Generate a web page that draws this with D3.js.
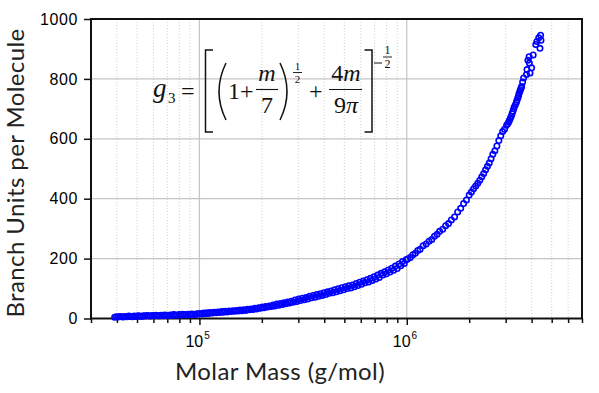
<!DOCTYPE html>
<html lang="en">
<head>
<meta charset="utf-8">
<title>Branch Units per Molecule vs Molar Mass</title>
<script src="https://cdnjs.cloudflare.com/ajax/libs/d3/7.8.5/d3.min.js"></script>
<style>
  body { margin: 0; background: #fff; }
  .tickLabel { font-family: "Liberation Sans", Arial, sans-serif; fill: #000; }
  .axisTitle { font-family: Lato, "Open Sans", sans-serif; fill: #222; }
  .eq { font-family: "Liberation Serif", "Times New Roman", serif; fill: #111; }
</style>
</head>
<body>
<div class="chart"></div>
<script>
// molar mass (g/mol) and branch units per molecule
var molarMass = [
  39000, 39800, 40600, 41400, 42200, 43000, 43900, 44800, 45700, 46600,
  47500, 48500, 49500, 50500, 51500, 52500, 53600, 54700, 55800, 56900,
  58000, 59200, 60400, 61600, 62800, 64100, 65400, 66700, 68000, 69400,
  70800, 72200, 73600, 75100, 76600, 78100, 79700, 81300, 82900, 84600,
  86300, 88000, 89800, 91600, 93400, 95300, 97200, 99100, 101000, 103000,
  105000, 107000, 109000, 111000, 113000, 115500, 118000, 120500, 123000, 125500,
  128000, 130500, 133000, 136000, 139000, 142000, 145000, 148000, 151000, 154000,
  157000, 160000, 163500, 167000, 170500, 174000, 177500, 181000, 185000, 189000,
  193000, 197000, 201000, 205000, 209000, 213000, 217500, 222000, 226500, 231000,
  236000, 241000, 246000, 251000, 256000, 261000, 266500, 272000, 277500, 283000,
  289000, 295000, 301000, 307000, 313500, 320000, 326500, 333000, 340000, 347000,
  354000, 361000, 368500, 376000, 383500, 391000, 399000, 407000, 415000, 423000,
  431500, 440000, 449000, 458000, 467000, 476500, 486000, 496000, 506000, 516000,
  526000, 537000, 548000, 559000, 570000, 581000, 593000, 605000, 617000, 629000,
  642000, 655000, 668000, 681000, 695000, 709000, 723000, 737000, 752000, 767000,
  782000, 798000, 814000, 830000, 847000, 864000, 881000, 899000, 917000, 935000,
  954000, 973000, 992000,
  1010000, 1040000, 1070000, 1100000, 1130000, 1160000, 1200000, 1240000, 1280000, 1320000,
  1360000, 1400000, 1440000, 1490000, 1540000, 1590000, 1640000, 1700000, 1760000, 1820000,
  1880000, 1940000, 2000000,
  2050000, 2100000, 2150000, 2200000, 2250000, 2300000, 2350000, 2400000, 2450000, 2500000,
  2550000, 2600000, 2660000, 2720000, 2780000, 2840000, 2900000, 2960000,
  3030000, 3070000, 3100000, 3130000, 3160000, 3190000, 3220000, 3250000, 3280000, 3300000,
  3340000, 3380000, 3400000, 3430000, 3460000, 3480000, 3510000, 3530000, 3560000, 3580000,
  3620000, 3660000, 3780000, 3800000, 3840000, 3890000, 3900000, 3930000, 4000000, 4070000,
  4190000, 4240000, 4330000, 4390000, 4420000, 4440000
];
var branchUnits = [
  4, 6, 5, 7, 6, 5, 7, 6, 8, 7,
  6, 8, 7, 9, 8, 7, 9, 8, 10, 9,
  8, 10, 9, 11, 10, 9, 11, 10, 12, 11,
  10, 12, 11, 13, 12, 11, 13, 12, 14, 13,
  12, 14, 13, 15, 14, 13, 16, 15, 17, 15,
  18, 16, 19, 17, 20, 18, 21, 19, 22, 20,
  23, 21, 24, 22, 25, 23, 26, 24, 27, 25,
  28, 26, 29, 27, 31, 29, 32, 30, 34, 32,
  36, 34, 38, 36, 40, 38, 42, 40, 45, 42,
  48, 44, 50, 47, 53, 49, 55, 52, 58, 54,
  62, 57, 65, 60, 68, 63, 70, 65, 74, 69,
  77, 71, 80, 74, 83, 77, 86, 80, 89, 84,
  92, 86, 96, 89, 99, 93, 103, 96, 106, 100,
  109, 102, 112, 106, 117, 110, 121, 114, 125, 119,
  129, 122, 134, 127, 139, 132, 145, 137, 151, 145,
  156, 149, 162, 155, 168, 161, 175, 167, 182, 176,
  190, 184, 196,
  199, 204, 213, 218, 227, 231, 243, 249, 258, 264,
  275, 281, 291, 298, 310, 317, 329, 339, 356, 368,
  384, 396, 412,
  422, 433, 442, 452, 462, 473, 484, 497, 508, 519,
  533, 548, 560, 576, 594, 610, 624, 632,
  645, 650, 656, 662, 669, 675, 684, 692, 700, 706,
  714, 722, 729, 736, 744, 751, 758, 764, 770, 775,
  790, 803, 815, 831, 862, 874, 853, 820, 837, 880,
  915, 925, 937, 902, 946, 929
];

var yTicks = [0, 200, 400, 600, 800, 1000];
var yGrid = [200, 400, 600, 800];
var xMajor = [1e5, 1e6];
var xMinor = [3e4, 4e4, 5e4, 6e4, 7e4, 8e4, 9e4,
              2e5, 3e5, 4e5, 5e5, 6e5, 7e5, 8e5, 9e5,
              2e6, 3e6, 4e6, 5e6, 6e6, 7e6];

var svgWidth = 599;
var svgHeight = 393;
var margin = { top: 19, right: 17, bottom: 74.5, left: 91 };
var width = svgWidth - margin.left - margin.right;
var height = svgHeight - margin.top - margin.bottom;

var svg = d3.select(".chart")
  .append("svg")
  .attr("width", svgWidth)
  .attr("height", svgHeight);

var chartGroup = svg.append("g")
  .attr("transform", `translate(${margin.left}, ${margin.top})`);

var xScale = d3.scaleLog().domain([3e4, 7e6]).range([0, width]);
var yScale = d3.scaleLinear().domain([0, 1000]).range([height, 0]);

// grid
chartGroup.append("g").selectAll("line")
  .data(xMinor)
  .enter().append("line")
  .attr("x1", d => xScale(d)).attr("x2", d => xScale(d))
  .attr("y1", 0).attr("y2", height)
  .attr("stroke", "#cfcfcf")
  .attr("stroke-width", 1)
  .attr("stroke-dasharray", "1,2");

chartGroup.append("g").selectAll("line")
  .data(xMajor)
  .enter().append("line")
  .attr("x1", d => xScale(d)).attr("x2", d => xScale(d))
  .attr("y1", 0).attr("y2", height)
  .attr("stroke", "#c4c4c4")
  .attr("stroke-width", 1.2);

chartGroup.append("g").selectAll("line")
  .data(yGrid)
  .enter().append("line")
  .attr("x1", 0).attr("x2", width)
  .attr("y1", d => yScale(d)).attr("y2", d => yScale(d))
  .attr("stroke", "#c4c4c4")
  .attr("stroke-width", 1.2);

// axes
var leftAxis = d3.axisLeft(yScale).tickValues(yTicks).tickSize(7).tickPadding(6)
  .tickFormat(d3.format("d"));
var yAxisG = chartGroup.append("g").call(leftAxis);
yAxisG.select(".domain").remove();
yAxisG.selectAll("line").attr("stroke", "#111").attr("stroke-width", 1.5);
yAxisG.selectAll("text")
  .attr("class", "tickLabel")
  .style("font-size", "16px")
  .style("letter-spacing", "0.6px");

var minorAxis = d3.axisBottom(xScale).tickValues(xMinor).tickSize(4.5).tickFormat("");
var xMinorG = chartGroup.append("g")
  .attr("transform", `translate(0, ${height})`)
  .call(minorAxis);
xMinorG.select(".domain").remove();
xMinorG.selectAll("line").attr("stroke", "#111").attr("stroke-width", 1.5);

var majorAxis = d3.axisBottom(xScale).tickValues(xMajor).tickSize(6.5).tickFormat("");
var xMajorG = chartGroup.append("g")
  .attr("transform", `translate(0, ${height})`)
  .call(majorAxis);
xMajorG.select(".domain").remove();
xMajorG.selectAll("text").remove();
xMajorG.selectAll("line").attr("stroke", "#111").attr("stroke-width", 1.5);

// power-of-ten labels
var xLabels = chartGroup.append("g").selectAll("text")
  .data(xMajor)
  .enter().append("text")
  .attr("class", "tickLabel")
  .attr("x", d => xScale(d) - 14)
  .attr("y", height + 28)
  .attr("font-size", 16);
xLabels.append("tspan").text("10");
xLabels.append("tspan")
  .attr("dy", -8)
  .attr("dx", 1)
  .attr("font-size", 10)
  .text(d => Math.round(Math.log10(d)));

// frame
chartGroup.append("rect")
  .attr("width", width)
  .attr("height", height)
  .attr("fill", "none")
  .attr("stroke", "#111")
  .attr("stroke-width", 2);

// points
chartGroup.append("g").selectAll("circle")
  .data(molarMass)
  .enter().append("circle")
  .attr("cx", d => xScale(d))
  .attr("cy", (d, i) => yScale(branchUnits[i]))
  .attr("r", 2.7)
  .attr("fill", "none")
  .attr("stroke", "#0000ff")
  .attr("stroke-width", 1.6);

// axis titles
svg.append("text")
  .attr("class", "axisTitle")
  .attr("transform", `translate(24, 173) rotate(-90)`)
  .attr("text-anchor", "middle")
  .style("font-size", "24px")
  .style("letter-spacing", "0.4px")
  .text("Branch Units per Molecule");

svg.append("text")
  .attr("class", "axisTitle")
  .attr("x", 280)
  .attr("y", 380)
  .attr("text-anchor", "middle")
  .style("font-size", "24px")
  .style("letter-spacing", "0.4px")
  .text("Molar Mass (g/mol)");

// equation annotation
var eq = svg.append("g").attr("class", "eq");
function eqText(x, y, size, parts, anchor) {
  var t = eq.append("text")
    .attr("x", x).attr("y", y)
    .attr("text-anchor", anchor || "start")
    .style("font-size", size + "px");
  parts.forEach(function (p) {
    t.append("tspan")
      .style("font-style", p[1] ? "italic" : "normal")
      .text(p[0]);
  });
}
function eqPath(dStr, w) {
  eq.append("path").attr("d", dStr)
    .attr("fill", "none").attr("stroke", "#111").attr("stroke-width", w || 1.3);
}
eqText(153, 97, 27, [["g", true]]);
eqText(168, 103, 15, [["3", false]]);
eqText(181, 99, 24, [["=", false]]);
eqPath("M213,50 H205.5 V132 H213", 1.5);
eqPath("M226,63 Q212,91.5 226,120", 1.5);
eqText(228, 99, 24, [["1", false]]);
eqText(240, 99, 24, [["+", false]]);
eqText(267, 81, 24, [["m", true]], "middle");
eqPath("M256,89.5 H278", 1.1);
eqText(267, 113, 24, [["7", false]], "middle");
eqPath("M280,63 Q294,91.5 280,120", 1.5);
eqText(297.5, 70, 11, [["1", false]], "middle");
eqPath("M293,72.5 H302", 0.9);
eqText(297.5, 83, 11, [["2", false]], "middle");
eqText(309, 99, 24, [["+", false]]);
eqText(346, 81, 24, [["4", false], ["m", true]], "middle");
eqPath("M329,89.5 H362", 1.1);
eqText(346, 113, 24, [["9", false], ["π", true]], "middle");
eqPath("M364.5,50 H372 V132 H364.5", 1.5);
eqPath("M374,63 H382", 1);
eqText(387.5, 54, 12, [["1", false]], "middle");
eqPath("M383,57 H392", 0.9);
eqText(387.5, 68, 12, [["2", false]], "middle");
</script>
</body>
</html>
